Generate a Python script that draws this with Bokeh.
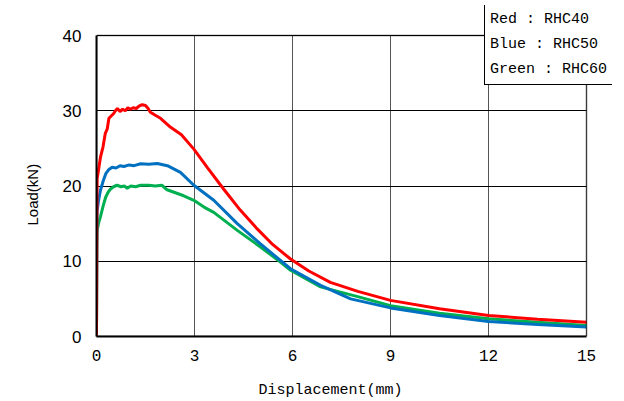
from bokeh.plotting import figure
from bokeh.models import Range1d, FixedTicker, Legend, LegendItem, BoxAnnotation, Title
from bokeh.embed import file_html
from bokeh.resources import INLINE

# Load-displacement curves for the three specimens
disp_rhc40 = [0.0, 0.01, 0.02, 0.05, 0.12, 0.20, 0.27, 0.33, 0.38, 0.45, 0.52, 0.58, 0.64, 0.72, 0.80,
              0.88, 0.96, 1.04, 1.12, 1.22, 1.30, 1.40, 1.50, 1.58, 1.65, 1.80, 1.96, 2.27, 2.60,
              2.98, 3.40, 3.89, 4.40, 4.92, 5.40, 5.94, 6.50, 7.16, 8.00, 9.00, 10.5, 12.0, 13.5, 15.0]
load_rhc40 = [0.0, 15.0, 21.0, 21.8, 23.8, 25.2, 27.0, 27.6, 29.0, 29.3, 29.6, 30.0, 30.3, 29.9, 30.2,
              30.0, 30.4, 30.2, 30.4, 30.3, 30.6, 30.8, 30.7, 30.3, 29.8, 29.4, 29.0, 27.8, 26.8,
              24.9, 22.4, 19.6, 16.8, 14.3, 12.2, 10.3, 8.7, 7.2, 6.0, 4.8, 3.7, 2.8, 2.3, 1.9]

disp_rhc50 = [0.0, 0.01, 0.02, 0.06, 0.12, 0.20, 0.28, 0.38, 0.48, 0.60, 0.72, 0.84, 1.00, 1.15, 1.35,
              1.60, 1.86, 2.17, 2.57, 2.98, 3.59, 4.31, 5.02, 5.94, 6.86, 7.78, 9.00, 10.5, 12.0, 13.5, 15.0]
load_rhc50 = [0.0, 14.0, 16.7, 18.0, 19.4, 20.6, 21.6, 22.2, 22.5, 22.4, 22.7, 22.6, 22.8, 22.7, 22.95,
              22.9, 23.0, 22.7, 21.8, 20.1, 18.1, 15.0, 12.3, 9.0, 6.8, 5.0, 3.8, 2.8, 2.0, 1.6, 1.25]

disp_rhc60 = [0.0, 0.01, 0.02, 0.06, 0.12, 0.20, 0.28, 0.36, 0.43, 0.52, 0.63, 0.75, 0.85, 0.94, 1.05,
              1.20, 1.35, 1.60, 1.80, 2.00, 2.16, 2.67, 2.98, 3.29, 3.59, 4.31, 5.02, 5.63, 5.94,
              6.86, 8.08, 9.00, 10.5, 12.0, 13.5, 15.0]
load_rhc60 = [0.0, 12.0, 14.1, 15.0, 15.9, 17.3, 18.5, 19.2, 19.6, 19.9, 20.1, 19.9, 20.0, 19.7, 20.0,
              19.9, 20.1, 20.1, 20.0, 20.1, 19.5, 18.7, 18.1, 17.2, 16.5, 14.1, 11.9, 9.9, 8.8,
              6.6, 5.2, 4.1, 3.1, 2.35, 1.9, 1.46]

x_ticks = [0, 3, 6, 9, 12, 15]
y_ticks = [0, 10, 20, 30, 40]
x_title = "Displacement(mm)"
y_title = "Load(kN)"
legend_lines = ["Red : RHC40", "Blue : RHC50", "Green : RHC60"]

mono = "Liberation Mono"
sans = "Liberation Sans"

x_lo, x_hi = x_ticks[0], x_ticks[-1]
y_lo, y_hi = y_ticks[0], y_ticks[-1]

# The frame reaches a little past the plotted box (top and right) so the key
# box can straddle the box corner; axes, grid and outline are bounded to the box.
p = figure(width=624, height=401, output_backend="svg", toolbar_location=None,
           x_range=Range1d(x_lo, x_hi * 516 / 490), y_range=Range1d(y_lo, y_hi * 331 / 301),
           frame_width=516, frame_height=331,
           min_border_left=96, min_border_right=12, min_border_top=5, min_border_bottom=65)

p.background_fill_color = "white"
p.border_fill_color = "white"
p.outline_line_color = None

p.xaxis.ticker = FixedTicker(ticks=x_ticks)
p.yaxis.ticker = FixedTicker(ticks=y_ticks)
p.xaxis.bounds = (x_lo, x_hi)
p.yaxis.bounds = (y_lo, y_hi)
p.xaxis.minor_tick_line_color = None
p.yaxis.minor_tick_line_color = None
p.xaxis.major_tick_line_color = None
p.yaxis.major_tick_line_color = None
p.xaxis.axis_line_color = "black"
p.yaxis.axis_line_color = "black"
p.xaxis.axis_line_width = 2
p.yaxis.axis_line_width = 2

p.xaxis.major_label_text_font = mono
p.xaxis.major_label_text_font_size = "16px"
p.yaxis.major_label_text_font = sans
p.yaxis.major_label_text_font_size = "17px"
p.xaxis.major_label_text_color = "black"
p.yaxis.major_label_text_color = "black"
p.xaxis.major_label_standoff = 7
p.yaxis.major_label_standoff = 9

# axis titles sit off-centre, so they are placed as side titles with offsets
p.add_layout(Title(text=x_title, align="left", offset=162, standoff=32,
                   text_font=mono, text_font_size="15px", text_font_style="normal",
                   text_color="black"), "below")
p.add_layout(Title(text=y_title, align="left", offset=111, standoff=38,
                   text_font=sans, text_font_size="15px", text_font_style="normal",
                   text_color="black"), "left")

p.xgrid.grid_line_color = "#555555"
p.ygrid.grid_line_color = "black"
p.xgrid.grid_line_width = 1
p.ygrid.grid_line_width = 1
p.xgrid.bounds = (x_lo, x_hi)
p.ygrid.bounds = (y_lo, y_hi)
p.xgrid.cross_bounds = (y_lo, y_hi)
p.ygrid.cross_bounds = (x_lo, x_hi)

p.line(disp_rhc60, load_rhc60, line_color="#00B050", line_width=3)
p.line(disp_rhc50, load_rhc50, line_color="#0070C0", line_width=3)
p.line(disp_rhc40, load_rhc40, line_color="#FF0000", line_width=3)

# black outline of the plotted box
p.add_layout(BoxAnnotation(left=x_lo, right=x_hi, bottom=y_lo, top=y_hi,
                           fill_alpha=0, line_color="black", line_width=2))

# text-only key box across the top-right corner of the box
blank = p.line([], [], line_alpha=0)
items = [LegendItem(label=t, renderers=[blank]) for t in legend_lines]
key = Legend(items=items, location=(388, 251), margin=0, padding=5, spacing=5,
             glyph_width=0, glyph_height=20, label_height=20, label_standoff=0,
             label_text_font=mono, label_text_font_size="15px", label_text_color="black",
             border_line_color="black", border_line_width=1.5, border_line_alpha=1.0,
             background_fill_color="white", background_fill_alpha=1.0)
p.add_layout(key)

open("out.html", "w").write(file_html(p, INLINE))
